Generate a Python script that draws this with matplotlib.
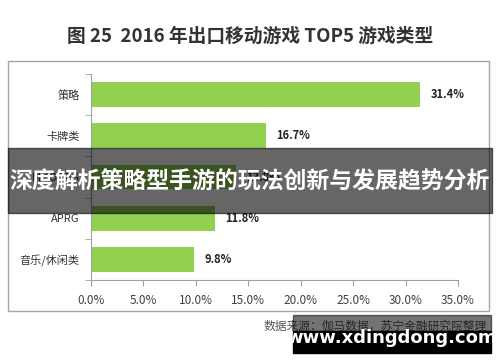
import numpy as np
import matplotlib.pyplot as plt
from matplotlib.patches import Rectangle

plt.rcParams['font.family'] = ['Noto Sans CJK SC', 'DejaVu Sans']

categories = ['策略', '卡牌类', 'MMORPG', 'APRG', '音乐/休闲类']
shares = [31.4, 16.7, 13.8, 11.8, 9.8]
xticks = [0, 5, 10, 15, 20, 25, 30, 35]

W, H = 500, 362
fig = plt.figure(figsize=(W / 100, H / 100), dpi=100)

def fx(px):
    return px / W

def fy(py):
    return 1 - py / H

# outer frame
fig.patches.append(Rectangle((fx(8), fy(311)), fx(489) - fx(8), fy(61) - fy(311),
                             transform=fig.transFigure, fill=False,
                             edgecolor='#a6a6a6', lw=1.0))

ax = fig.add_axes([fx(91), fy(280), fx(458) - fx(91), fy(74) - fy(280)])
y = np.arange(len(categories))
ax.barh(y, shares, height=0.6, color='#92D050', zorder=2)
ax.set_ylim(len(categories) - 0.5, -0.5)
ax.set_xlim(0, 35)
ax.set_yticks(y)
ax.set_yticklabels(categories, fontsize=8, color='#333333')
ax.set_yticks(np.arange(len(categories) + 1) - 0.5, minor=True)
ax.tick_params(axis='y', which='major', length=0, pad=8)
ax.tick_params(axis='y', which='minor', length=4, color='#a0a0a0')
ax.set_xticks(xticks)
ax.set_xticklabels(['%.1f%%' % v for v in xticks], fontsize=8.5, color='#404040')
ax.tick_params(axis='x', length=4, color='#a0a0a0', pad=6)
for s in ['top', 'right']:
    ax.spines[s].set_visible(False)
for s in ['left', 'bottom']:
    ax.spines[s].set_color('#a0a0a0')
for yi, v in zip(y, shares):
    ax.text(v + 1.0, yi, '%.1f%%' % v, va='center', ha='left',
            fontsize=8, fontweight='bold', color='#222222')

fig.text(0.5, fy(36), '图 25  2016 年出口移动游戏 TOP5 游戏类型', ha='center', va='center',
         fontsize=13.5, fontweight='bold', color='#333333')
fig.text(fx(487), fy(326), '数据来源：伽马数据，苏宁金融研究院整理', ha='right', va='center',
         fontsize=8.5, style='italic', color='#555555')

# overlay band
fig.patches.append(Rectangle((fx(8), fy(213)), fx(492) - fx(8), fy(148) - fy(213),
                             transform=fig.transFigure, color='black', alpha=0.6, zorder=5))
fig.text(fx(250), fy(182), '深度解析策略型手游的玩法创新与发展趋势分析', ha='center', va='center',
         fontsize=16.5, fontweight='bold', color='white', zorder=6)

# watermark
fig.patches.append(Rectangle((fx(293), fy(331)), fx(491) - fx(293), fy(315) - fy(331),
                             transform=fig.transFigure, color='black', alpha=0.55, zorder=5))
fig.patches.append(Rectangle((fx(293), fy(353)), fx(491) - fx(293), fy(331) - fy(353),
                             transform=fig.transFigure, color='black', zorder=5))
fig.text(fx(392), fy(338), 'www.xdingdong.com', ha='center', va='center',
         fontsize=13, fontweight='bold', color='white', family='DejaVu Sans', zorder=6)

fig.savefig('out.png', dpi=100)
